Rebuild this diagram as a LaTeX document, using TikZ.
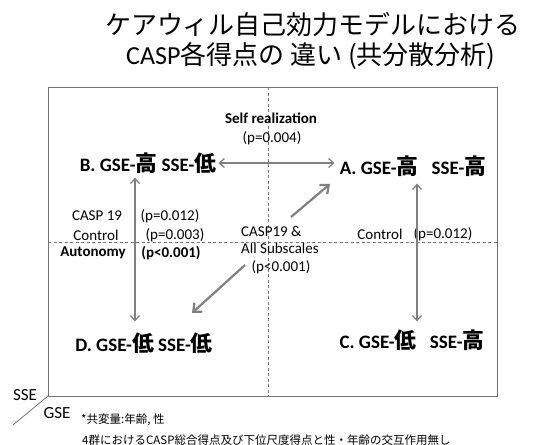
\documentclass[tikz,border=0pt]{standalone}
\usepackage{fontspec}
\setmainfont{Carlito}
\newfontfamily\cjk{Noto Sans CJK JP}
\newfontfamily\cjkbig[Scale=1.15]{Noto Sans CJK JP}
\usetikzlibrary{arrows.meta}
\newcommand{\jb}[1]{{\cjkbig #1}}
\begin{document}
\begin{tikzpicture}[x=1pt,y=-1pt,
  frame/.style={draw=black!55, line width=0.8pt},
  divider/.style={draw=black!55, line width=0.7pt, dash pattern=on 3pt off 2.5pt},
  group/.style={font=\fontsize{19}{20}\selectfont\bfseries, inner sep=2pt},
  lab/.style={font=\fontsize{15}{17}\selectfont, inner sep=1pt},
  labb/.style={font=\fontsize{15}{17}\selectfont\bfseries, inner sep=1pt},
  dar/.style={draw=black!50, line width=1.3pt, {Straight Barb[length=5pt,width=9pt]}-{Straight Barb[length=5pt,width=9pt]}},
  sar/.style={draw=black!50, line width=2.2pt, -{Straight Barb[length=7pt,width=12pt]}},
  axis/.style={draw=black!55, line width=0.8pt}]
\useasboundingbox (0,0) rectangle (558,445);

% title
\node (t1) at (313,25) {\fontsize{26}{30}\selectfont\cjk ケアウィル自己効力モデルにおける};
\node (t2) at (311,56) {\fontsize{26}{30}\selectfont CASP{\cjk 各得点の 違い (共分散分析)}};

% frame
\coordinate (bl) at (48,396);
\coordinate (tr) at (497,87);
\draw[frame] (bl) rectangle (tr);
\coordinate (hl) at (48,242);
\coordinate (hr) at (497,242);
\coordinate (vt) at (268,87);
\coordinate (vb) at (268,396);
\draw[divider] (hl) -- (hr);
\draw[divider] (vt) -- (vb);

% groups
\node[group] (B) at (148,163) {B. GSE-\jb{高} SSE-\jb{低}};
\node[group] (A) at (413,166) {A. GSE-\jb{高}\hspace{0.7em}SSE-\jb{高}};
\node[group] (C) at (412,340) {C. GSE-\jb{低}\hspace{0.7em}SSE-\jb{高}};
\node[group] (D) at (144,343) {D. GSE-\jb{低} SSE-\jb{低}};

% labels
\node[labb] (sr) at (271,118) {Self realization};
\node[lab] (srp) at (272,138) {(p=0.004)};
\node[lab] (c19) at (97,216) {CASP 19};
\node[lab] (c19p) at (170,216) {(p=0.012)};
\node[lab] (ctl) at (96,235) {Control};
\node[lab] (ctlp) at (175,235) {(p=0.003)};
\node[labb] (aut) at (93,253) {Autonomy};
\node[labb] (autp) at (171,253) {(p<0.001)};
\node[lab] (ctr) at (380,234) {Control};
\node[lab] (ctrp) at (443,234) {(p=0.012)};
\node[lab, align=left, anchor=west, font=\fontsize{15}{17.5}\selectfont] (all) at (240,250) {CASP19 \&\\All Subscales\\\hspace{0.7em}(p<0.001)};

% arrows
\coordinate (bx) at (135,0);
\coordinate (ax) at (417,0);
\draw[dar, shorten >=3pt] (B.east) -- (A.west |- B.east);
\draw[dar, shorten <=2pt, shorten >=9pt] (B.south -| bx) -- (D.north -| bx);
\draw[dar, shorten <=5pt, shorten >=6pt] (A.south -| ax) -- (C.north -| ax);
\coordinate (u0) at (291,217);
\coordinate (u1) at (330,184);
\coordinate (l0) at (245,265);
\coordinate (l1) at (192,313);
\draw[sar] (u0) -- (u1);
\draw[sar] (l0) -- (l1);

% axes
\coordinate (ax0) at (13,425);
\draw[axis] (bl) -- (ax0);
\node[font=\fontsize{17}{18}\selectfont, inner sep=0pt] (sse) at (25,395) {SSE};
\node[font=\fontsize{17}{18}\selectfont, inner sep=0pt] (gse) at (57,413) {GSE};

% footnote
\node[anchor=west, inner sep=0pt, font=\fontsize{11.5}{13}\selectfont\cjk] (f1) at (81,420) {*共変量:年齢, 性};
\node[anchor=west, inner sep=0pt, font=\fontsize{11.5}{13}\selectfont\cjk] (f2) at (82,440) {4群におけるCASP総合得点及び下位尺度得点と性・年齢の交互作用無し};
\end{tikzpicture}
\end{document}
